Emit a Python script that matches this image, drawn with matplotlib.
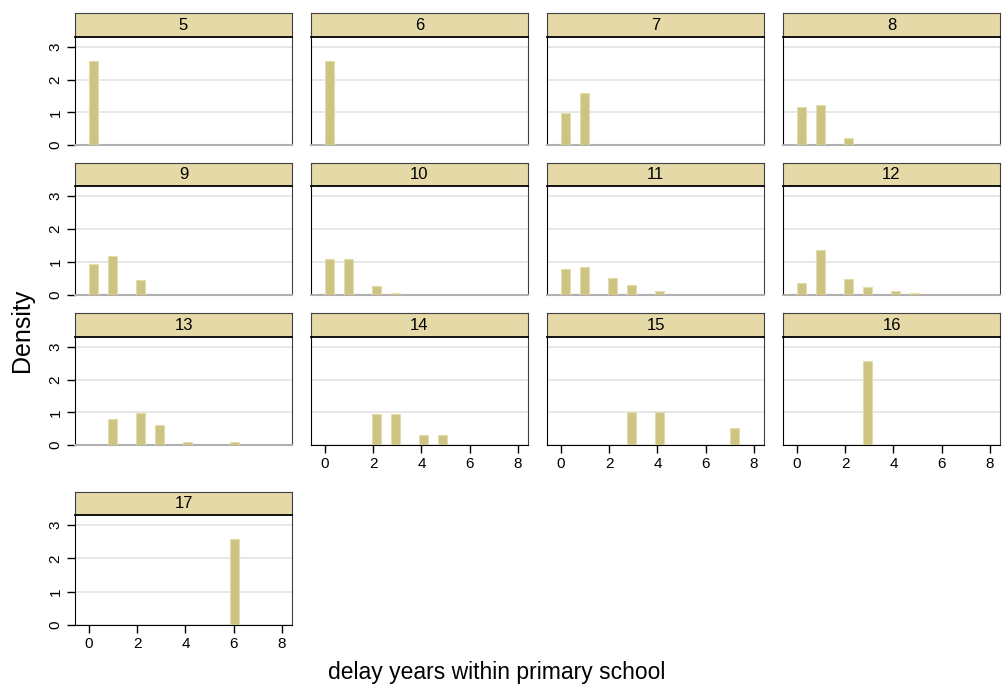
import numpy as np
import matplotlib.pyplot as plt

plt.rcParams['font.family'] = ['Liberation Sans', 'DejaVu Sans']

W, H = 1002, 686

# age groups and densities of delay years (read per panel)
ages = [5, 6, 7, 8, 9, 10, 11, 12, 13, 14, 15, 16, 17]
delays = {
    5: [0],
    6: [0],
    7: [0, 1],
    8: [0, 1, 2],
    9: [0, 1, 2],
    10: [0, 1, 2, 3],
    11: [0, 1, 2, 3, 4],
    12: [0, 1, 2, 3, 4, 5],
    13: [1, 2, 3, 4, 6],
    14: [2, 3, 4, 5],
    15: [3, 4, 7],
    16: [3],
    17: [6],
}
density = {
    5: [2.57],
    6: [2.57],
    7: [0.98, 1.59],
    8: [1.15, 1.22, 0.20],
    9: [0.95, 1.18, 0.44],
    10: [1.10, 1.10, 0.28, 0.07],
    11: [0.80, 0.85, 0.50, 0.30, 0.11],
    12: [0.35, 1.35, 0.47, 0.23, 0.11, 0.07],
    13: [0.80, 0.98, 0.62, 0.08, 0.08],
    14: [0.96, 0.96, 0.32, 0.32],
    15: [1.02, 1.02, 0.51],
    16: [2.57],
    17: [2.57],
}

# histogram bins: 18 bins over 0..7
nbins = 18
binw = 7.0 / nbins

bar_col = '#cdc482'
bar_edge = '#e2dcae'
strip_col = '#e5d9a7'
grid_col = '#e3e3e3'

col_x = [75, 311, 547, 783]
pw = 217
row_y = [(13, 37, 145), (163, 186, 295), (313, 337, 445), (492, 515, 625)]

fig = plt.figure(figsize=(W / 100, H / 100), dpi=100)

def frac(x0, y0, x1, y1):
    return [x0 / W, 1 - y1 / H, (x1 - x0) / W, (y1 - y0) / H]

for i, age in enumerate(ages):
    r, c = divmod(i, 4)
    st, sb, pb = row_y[r]
    x0 = col_x[c]
    ax = fig.add_axes(frac(x0, sb, x0 + pw, pb))
    v = np.array(delays[age])
    left = np.floor(v / binw + 1e-9) * binw
    ax.bar(left, density[age], width=binw, align='edge', color=bar_col,
           edgecolor=bar_edge, linewidth=0.8, zorder=3)
    ax.set_xlim(-0.58, 8.42)
    ax.set_ylim(0, 3.3)
    ax.set_yticks([0, 1, 2, 3])
    ax.set_xticks([0, 2, 4, 6, 8])
    ax.grid(axis='y', color=grid_col, linewidth=1.2, zorder=0)
    ax.tick_params(length=6, width=1, labelsize=11, color='black', pad=3)
    ax.tick_params(axis='y', labelrotation=90)
    for lab in ax.get_yticklabels():
        lab.set_va('center')
    show_x = age >= 14
    show_y = c == 0
    if not show_x:
        ax.tick_params(axis='x', bottom=False, labelbottom=False)
        ax.spines['bottom'].set_color('#b0b0b0')
        ax.spines['bottom'].set_linewidth(1.5)
    if not show_y:
        ax.tick_params(axis='y', left=False, labelleft=False)
    ax.spines['right'].set_color('#404040')
    ax.spines['top'].set_visible(False)

    sax = fig.add_axes(frac(x0, st, x0 + pw, sb))
    sax.set_facecolor(strip_col)
    sax.set_xticks([])
    sax.set_yticks([])
    for sp in sax.spines.values():
        sp.set_color('#404040')
    sax.spines['bottom'].set_color('black')
    sax.spines['bottom'].set_linewidth(1.3)
    sax.text(0.5, 0.5, str(age), ha='center', va='center', fontsize=12,
             transform=sax.transAxes)

fig.text(22 / W, 1 - 330 / H, 'Density', rotation=90, ha='center',
         va='center', fontsize=18)
fig.text(497 / W, 1 - 672 / H, 'delay years within primary school',
         ha='center', va='center', fontsize=16.5)

fig.savefig('out.png', dpi=100, facecolor='white')
